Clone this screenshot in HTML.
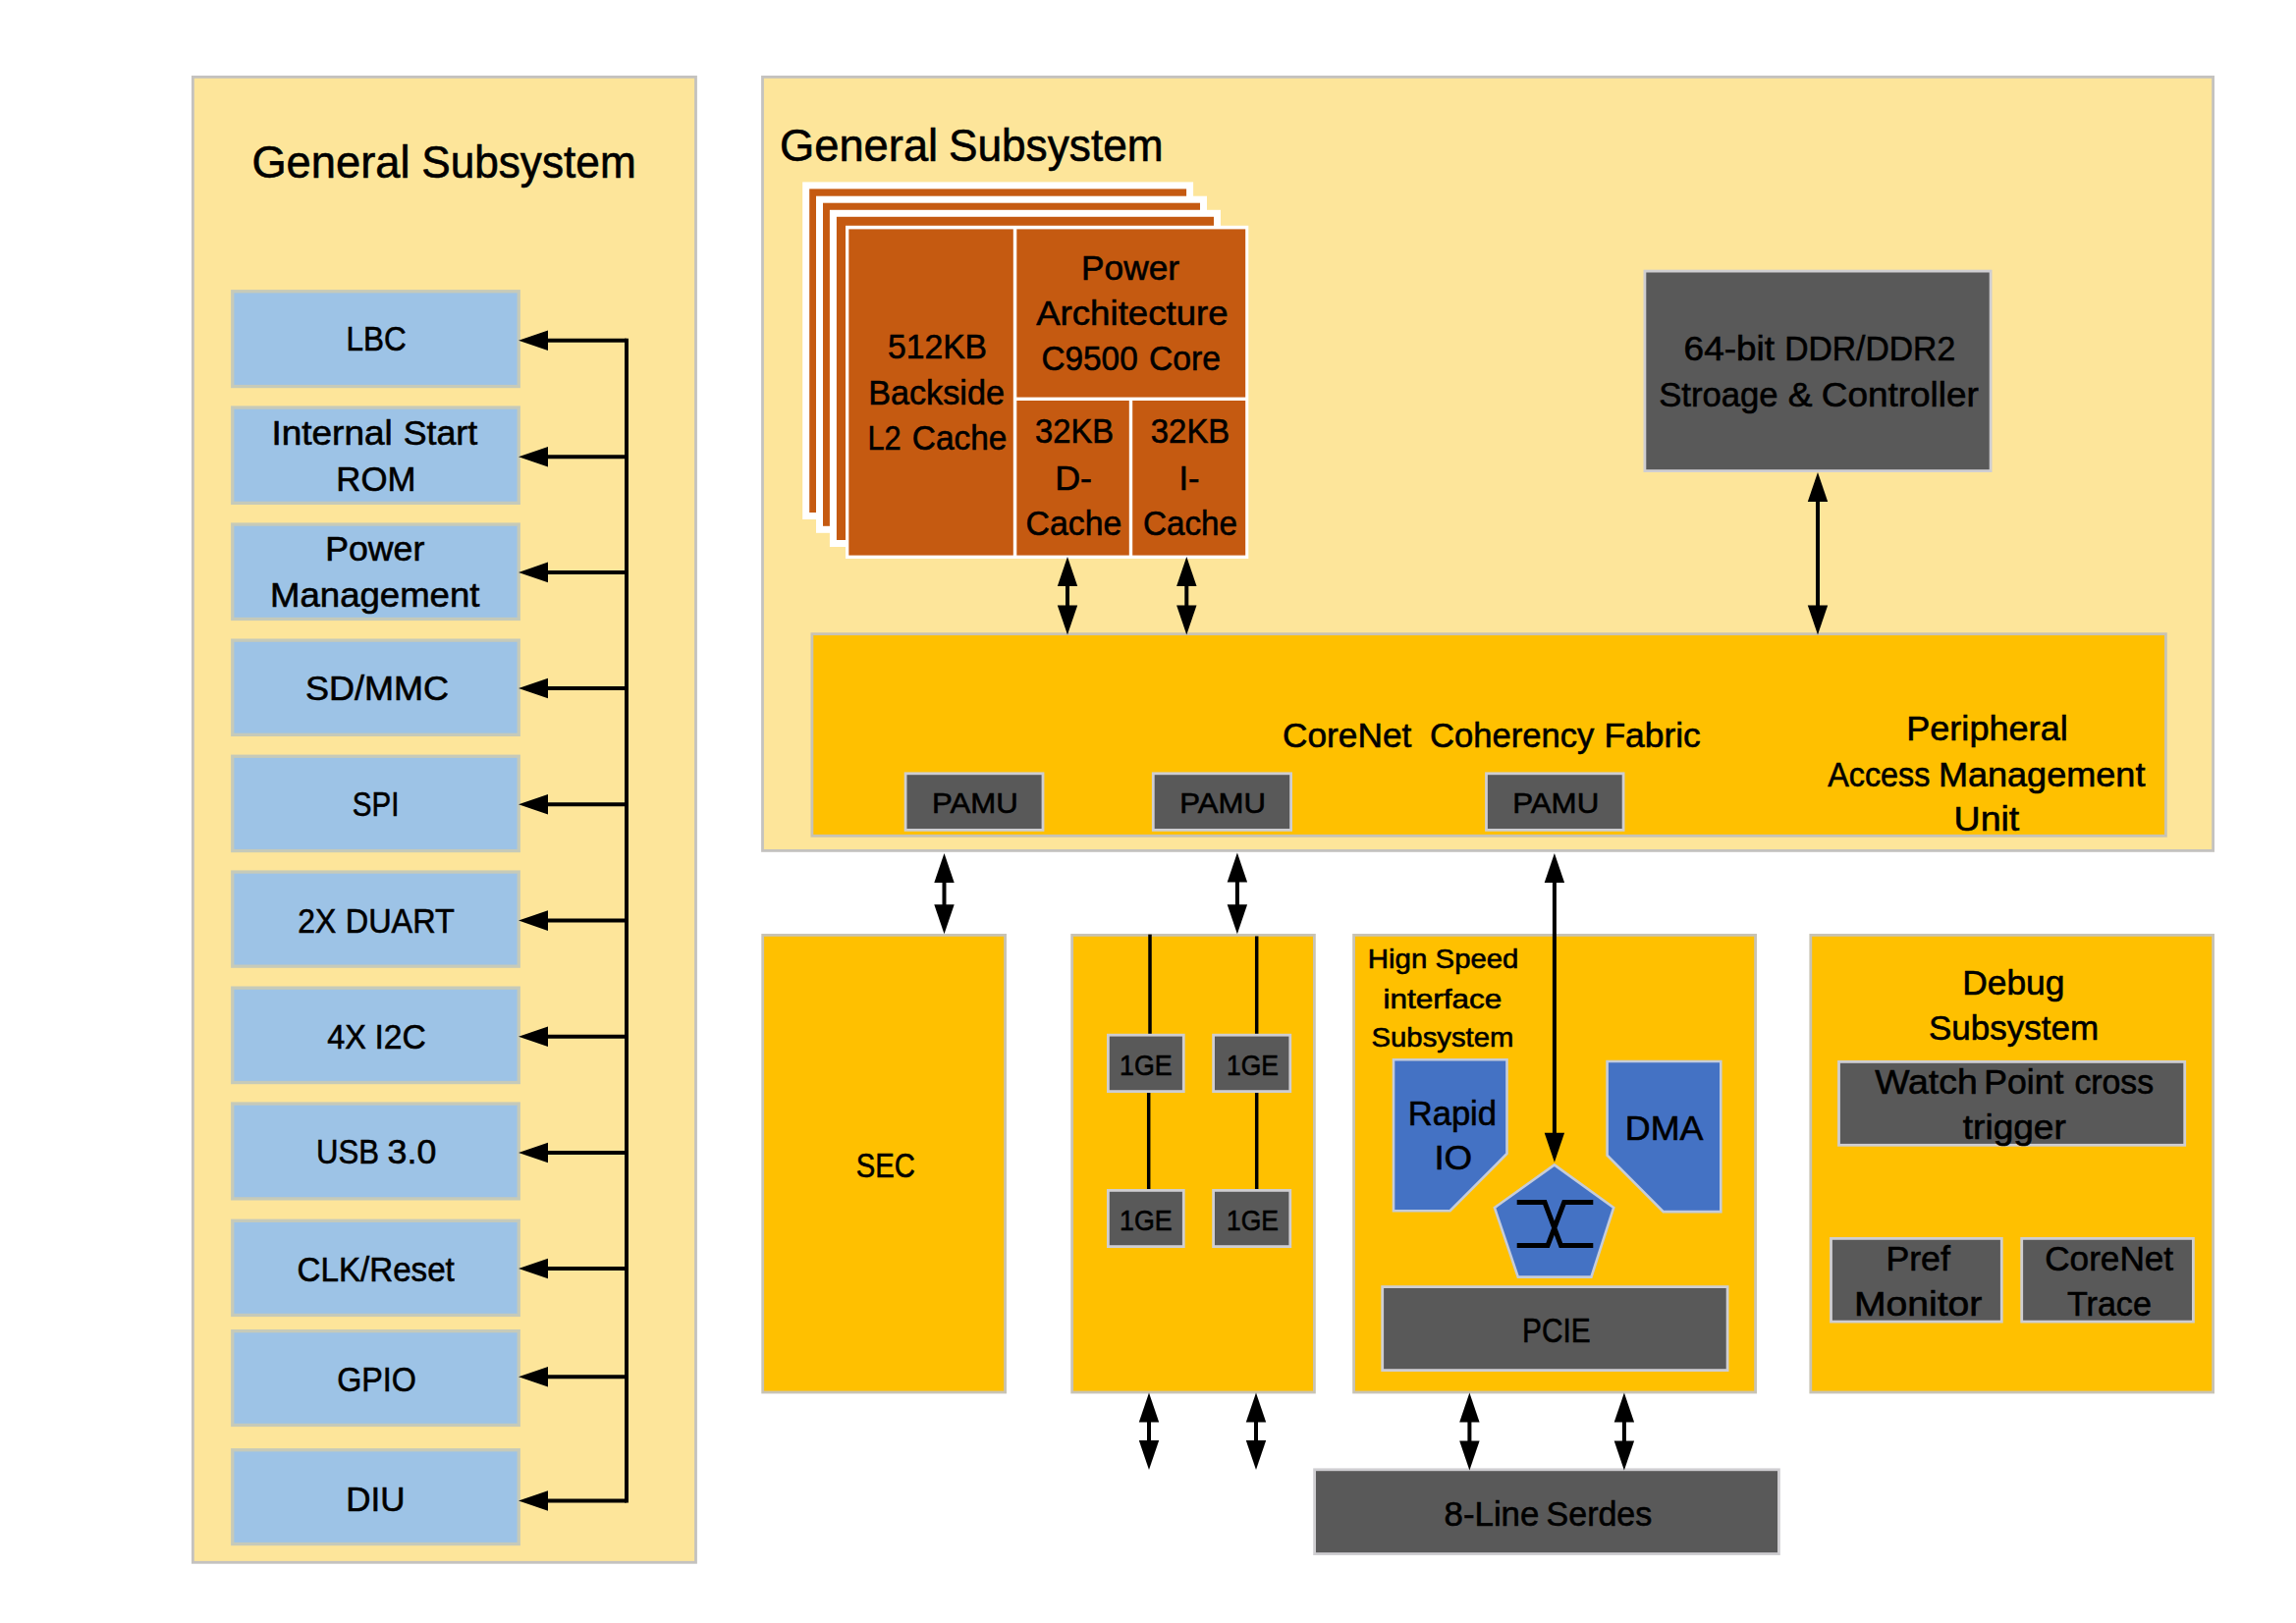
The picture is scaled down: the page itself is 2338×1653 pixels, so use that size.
<!DOCTYPE html>
<html><head><meta charset="utf-8"><title>Block diagram</title>
<style>
html,body{margin:0;padding:0;background:#fff;}
body{width:2338px;height:1653px;overflow:hidden;}
svg{display:block;}
text{font-family:"Liberation Sans",sans-serif;}
</style></head><body>
<svg width="2338" height="1653" viewBox="0 0 2338 1653">
<rect width="2338" height="1653" fill="#fff"/>
<rect x="196.40" y="78.40" width="512.10" height="1512.90" fill="#FDE59A" stroke="#C4C2BF" stroke-width="2.8"/>
<text x="256.40" y="181.0" font-size="45.8" stroke="#000" stroke-width="0.6" textLength="161.14" lengthAdjust="spacingAndGlyphs" fill="#000">General</text>
<text x="429.20" y="181.0" font-size="45.8" stroke="#000" stroke-width="0.6" textLength="218.49" lengthAdjust="spacingAndGlyphs" fill="#000">Subsystem</text>
<rect x="236.75" y="296.75" width="291.50" height="96.80" fill="#9DC3E6" stroke="#C6CAB9" stroke-width="3.3"/>
<rect x="236.75" y="415.05" width="291.50" height="97.30" fill="#9DC3E6" stroke="#C6CAB9" stroke-width="3.3"/>
<rect x="236.75" y="534.05" width="291.50" height="96.40" fill="#9DC3E6" stroke="#C6CAB9" stroke-width="3.3"/>
<rect x="236.75" y="652.15" width="291.50" height="96.20" fill="#9DC3E6" stroke="#C6CAB9" stroke-width="3.3"/>
<rect x="236.75" y="770.25" width="291.50" height="96.30" fill="#9DC3E6" stroke="#C6CAB9" stroke-width="3.3"/>
<rect x="236.75" y="888.05" width="291.50" height="96.10" fill="#9DC3E6" stroke="#C6CAB9" stroke-width="3.3"/>
<rect x="236.75" y="1006.15" width="291.50" height="96.40" fill="#9DC3E6" stroke="#C6CAB9" stroke-width="3.3"/>
<rect x="236.75" y="1124.05" width="291.50" height="96.80" fill="#9DC3E6" stroke="#C6CAB9" stroke-width="3.3"/>
<rect x="236.75" y="1243.25" width="291.50" height="96.20" fill="#9DC3E6" stroke="#C6CAB9" stroke-width="3.3"/>
<rect x="236.75" y="1355.65" width="291.50" height="95.80" fill="#9DC3E6" stroke="#C6CAB9" stroke-width="3.3"/>
<rect x="236.75" y="1476.75" width="291.50" height="95.80" fill="#9DC3E6" stroke="#C6CAB9" stroke-width="3.3"/>
<line x1="638" y1="344.7" x2="638" y2="1530.5" stroke="#000" stroke-width="4"/>
<line x1="556" y1="346.7" x2="638" y2="346.7" stroke="#000" stroke-width="4"/>
<polygon points="528,346.7 558,336.4 558,357.0" fill="#000"/>
<line x1="556" y1="465.3" x2="638" y2="465.3" stroke="#000" stroke-width="4"/>
<polygon points="528,465.3 558,455.0 558,475.6" fill="#000"/>
<line x1="556" y1="582.9" x2="638" y2="582.9" stroke="#000" stroke-width="4"/>
<polygon points="528,582.9 558,572.6 558,593.1999999999999" fill="#000"/>
<line x1="556" y1="701" x2="638" y2="701" stroke="#000" stroke-width="4"/>
<polygon points="528,701 558,690.7 558,711.3" fill="#000"/>
<line x1="556" y1="819.2" x2="638" y2="819.2" stroke="#000" stroke-width="4"/>
<polygon points="528,819.2 558,808.9000000000001 558,829.5" fill="#000"/>
<line x1="556" y1="937.6" x2="638" y2="937.6" stroke="#000" stroke-width="4"/>
<polygon points="528,937.6 558,927.3000000000001 558,947.9" fill="#000"/>
<line x1="556" y1="1055.7" x2="638" y2="1055.7" stroke="#000" stroke-width="4"/>
<polygon points="528,1055.7 558,1045.4 558,1066.0" fill="#000"/>
<line x1="556" y1="1174" x2="638" y2="1174" stroke="#000" stroke-width="4"/>
<polygon points="528,1174 558,1163.7 558,1184.3" fill="#000"/>
<line x1="556" y1="1292" x2="638" y2="1292" stroke="#000" stroke-width="4"/>
<polygon points="528,1292 558,1281.7 558,1302.3" fill="#000"/>
<line x1="556" y1="1402.3" x2="638" y2="1402.3" stroke="#000" stroke-width="4"/>
<polygon points="528,1402.3 558,1392.0 558,1412.6" fill="#000"/>
<line x1="556" y1="1528.5" x2="638" y2="1528.5" stroke="#000" stroke-width="4"/>
<polygon points="528,1528.5 558,1518.2 558,1538.8" fill="#000"/>
<rect x="776.50" y="78.40" width="1477.10" height="788.00" fill="#FDE59A" stroke="#C4C2BF" stroke-width="2.8"/>
<text x="794.00" y="164.1" font-size="45.8" stroke="#000" stroke-width="0.6" textLength="161.17" lengthAdjust="spacingAndGlyphs" fill="#000">General</text>
<text x="965.90" y="164.1" font-size="45.8" stroke="#000" stroke-width="0.6" textLength="218.70" lengthAdjust="spacingAndGlyphs" fill="#000">Subsystem</text>
<rect x="820.70" y="188.90" width="390.90" height="336.60" fill="#C55A11" stroke="#fff" stroke-width="7"/>
<rect x="834.50" y="203.20" width="391.00" height="336.10" fill="#C55A11" stroke="#fff" stroke-width="7"/>
<rect x="848.40" y="217.30" width="391.10" height="336.20" fill="#C55A11" stroke="#fff" stroke-width="7"/>
<rect x="861" y="229.8" width="410.3" height="339.2" fill="#fff"/>
<rect x="864.3" y="233.4" width="167.5" height="332.2" fill="#C55A11"/>
<rect x="1035.3" y="233.4" width="232.9" height="171.2" fill="#C55A11"/>
<rect x="1035.3" y="408" width="114.5" height="157.6" fill="#C55A11"/>
<rect x="1153.2" y="408" width="115.0" height="157.6" fill="#C55A11"/>
<rect x="1674.90" y="276.10" width="352.20" height="203.50" fill="#595959" stroke="#CFCED1" stroke-width="2.8"/>
<rect x="826.90" y="645.70" width="1378.50" height="205.60" fill="#FFC000" stroke="#C8C3B4" stroke-width="2.8"/>
<rect x="922.10" y="787.80" width="139.90" height="57.60" fill="#595959" stroke="#CFCED1" stroke-width="2.8"/>
<rect x="1174.30" y="787.80" width="140.30" height="57.60" fill="#595959" stroke="#CFCED1" stroke-width="2.8"/>
<rect x="1513.50" y="787.80" width="139.60" height="57.60" fill="#595959" stroke="#CFCED1" stroke-width="2.8"/>
<rect x="776.70" y="952.40" width="246.90" height="465.60" fill="#FFC000" stroke="#C8C3B4" stroke-width="2.8"/>
<rect x="1091.70" y="952.40" width="246.70" height="465.60" fill="#FFC000" stroke="#C8C3B4" stroke-width="2.8"/>
<rect x="1378.60" y="952.40" width="409.00" height="465.60" fill="#FFC000" stroke="#C8C3B4" stroke-width="2.8"/>
<rect x="1843.80" y="952.40" width="409.80" height="465.60" fill="#FFC000" stroke="#C8C3B4" stroke-width="2.8"/>
<rect x="1338.60" y="1496.80" width="472.80" height="85.80" fill="#595959" stroke="#CFCED1" stroke-width="2.8"/>
<line x1="1171" y1="951.7" x2="1171" y2="1054" stroke="#000" stroke-width="3.5"/>
<line x1="1279.7" y1="953.5" x2="1279.7" y2="1056" stroke="#000" stroke-width="3.5"/>
<line x1="1169.7" y1="1111" x2="1169.7" y2="1213" stroke="#000" stroke-width="3.5"/>
<line x1="1279.7" y1="1111" x2="1279.7" y2="1213" stroke="#000" stroke-width="3.5"/>
<rect x="1128.40" y="1054.20" width="76.90" height="57.40" fill="#595959" stroke="#CFCED1" stroke-width="2.8"/>
<rect x="1128.40" y="1212.40" width="76.90" height="57.20" fill="#595959" stroke="#CFCED1" stroke-width="2.8"/>
<rect x="1235.60" y="1054.20" width="78.20" height="57.40" fill="#595959" stroke="#CFCED1" stroke-width="2.8"/>
<rect x="1235.60" y="1212.40" width="78.20" height="57.20" fill="#595959" stroke="#CFCED1" stroke-width="2.8"/>
<polygon points="1419.0,1079.2 1534.5,1079.2 1534.5,1175.0 1476.6,1233.2 1419.0,1233.2" fill="#4472C4" stroke="#C5CCDA" stroke-width="2.6" stroke-linejoin="miter"/>
<polygon points="1636.6,1081.0 1752.3,1081.0 1752.3,1234.1 1693.8,1234.1 1636.6,1176.6" fill="#4472C4" stroke="#C5CCDA" stroke-width="2.6" stroke-linejoin="miter"/>
<polygon points="1582.8,1186.4 1643.2,1230.0 1620.4,1300.6 1545.8,1300.6 1521.9,1230.0" fill="#4472C4" stroke="#C5CCDA" stroke-width="2.6" stroke-linejoin="miter"/>
<path d="M1544.7 1224.5 H1573 L1589.5 1268.6 H1622.3 M1622.3 1224.5 H1592.7 L1576 1268.6 H1544.7" fill="none" stroke="#000" stroke-width="5" stroke-linejoin="miter"/>
<rect x="1407.70" y="1310.60" width="351.40" height="85.00" fill="#595959" stroke="#CFCED1" stroke-width="2.8"/>
<rect x="1872.50" y="1081.40" width="352.20" height="84.90" fill="#595959" stroke="#CFCED1" stroke-width="2.8"/>
<rect x="1864.50" y="1261.40" width="173.80" height="84.70" fill="#595959" stroke="#CFCED1" stroke-width="2.8"/>
<rect x="2058.70" y="1261.40" width="174.70" height="84.70" fill="#595959" stroke="#CFCED1" stroke-width="2.8"/>
<line x1="1087" y1="595.0" x2="1087" y2="618.5" stroke="#000" stroke-width="4"/>
<polygon points="1087,567.0 1076.8,597.0 1097.2,597.0" fill="#000"/>
<polygon points="1087,646.5 1076.8,616.5 1097.2,616.5" fill="#000"/>
<line x1="1208.3" y1="595.0" x2="1208.3" y2="618.5" stroke="#000" stroke-width="4"/>
<polygon points="1208.3,567.0 1198.1,597.0 1218.5,597.0" fill="#000"/>
<polygon points="1208.3,646.5 1198.1,616.5 1218.5,616.5" fill="#000"/>
<line x1="1851" y1="509.0" x2="1851" y2="618.4" stroke="#000" stroke-width="4"/>
<polygon points="1851,481.0 1840.8,511.0 1861.2,511.0" fill="#000"/>
<polygon points="1851,646.4 1840.8,616.4 1861.2,616.4" fill="#000"/>
<line x1="961.5" y1="897.0" x2="961.5" y2="923.3" stroke="#000" stroke-width="4"/>
<polygon points="961.5,869.0 951.3,899.0 971.7,899.0" fill="#000"/>
<polygon points="961.5,951.3 951.3,921.3 971.7,921.3" fill="#000"/>
<line x1="1259.9" y1="896.5" x2="1259.9" y2="923.3" stroke="#000" stroke-width="4"/>
<polygon points="1259.9,868.5 1249.7,898.5 1270.1000000000001,898.5" fill="#000"/>
<polygon points="1259.9,951.3 1249.7,921.3 1270.1000000000001,921.3" fill="#000"/>
<line x1="1582.9" y1="897.0" x2="1582.9" y2="1155.8" stroke="#000" stroke-width="4"/>
<polygon points="1582.9,869.0 1572.7,899.0 1593.1000000000001,899.0" fill="#000"/>
<polygon points="1582.9,1183.8 1572.7,1153.8 1593.1000000000001,1153.8" fill="#000"/>
<line x1="1170" y1="1446.5" x2="1170" y2="1469.0" stroke="#000" stroke-width="4"/>
<polygon points="1170,1418.5 1159.8,1448.5 1180.2,1448.5" fill="#000"/>
<polygon points="1170,1497.0 1159.8,1467.0 1180.2,1467.0" fill="#000"/>
<line x1="1279" y1="1446.5" x2="1279" y2="1469.0" stroke="#000" stroke-width="4"/>
<polygon points="1279,1418.5 1268.8,1448.5 1289.2,1448.5" fill="#000"/>
<polygon points="1279,1497.0 1268.8,1467.0 1289.2,1467.0" fill="#000"/>
<line x1="1496.4" y1="1446.5" x2="1496.4" y2="1469.6" stroke="#000" stroke-width="4"/>
<polygon points="1496.4,1418.5 1486.2,1448.5 1506.6000000000001,1448.5" fill="#000"/>
<polygon points="1496.4,1497.6 1486.2,1467.6 1506.6000000000001,1467.6" fill="#000"/>
<line x1="1653.9" y1="1446.5" x2="1653.9" y2="1469.6" stroke="#000" stroke-width="4"/>
<polygon points="1653.9,1418.5 1643.7,1448.5 1664.1000000000001,1448.5" fill="#000"/>
<polygon points="1653.9,1497.6 1643.7,1467.6 1664.1000000000001,1467.6" fill="#000"/>
<text x="1101.00" y="284.8" font-size="35.2" stroke="#000" stroke-width="0.6" textLength="100.07" lengthAdjust="spacingAndGlyphs" fill="#000">Power</text>
<text x="1055.20" y="331.3" font-size="35.2" stroke="#000" stroke-width="0.6" textLength="195.41" lengthAdjust="spacingAndGlyphs" fill="#000">Architecture</text>
<text x="1060.40" y="377.0" font-size="35.2" stroke="#000" stroke-width="0.6" textLength="98.30" lengthAdjust="spacingAndGlyphs" fill="#000">C9500</text>
<text x="1170.00" y="377.0" font-size="35.2" stroke="#000" stroke-width="0.6" textLength="73.10" lengthAdjust="spacingAndGlyphs" fill="#000">Core</text>
<text x="904.00" y="364.7" font-size="35.2" stroke="#000" stroke-width="0.6" textLength="101.07" lengthAdjust="spacingAndGlyphs" fill="#000">512KB</text>
<text x="884.20" y="411.8" font-size="35.2" stroke="#000" stroke-width="0.6" textLength="138.72" lengthAdjust="spacingAndGlyphs" fill="#000">Backside</text>
<text x="883.40" y="457.6" font-size="35.2" stroke="#000" stroke-width="0.6" textLength="34.13" lengthAdjust="spacingAndGlyphs" fill="#000">L2</text>
<text x="928.80" y="457.6" font-size="35.2" stroke="#000" stroke-width="0.6" textLength="96.67" lengthAdjust="spacingAndGlyphs" fill="#000">Cache</text>
<text x="1054.00" y="451.0" font-size="35.2" stroke="#000" stroke-width="0.6" textLength="80.16" lengthAdjust="spacingAndGlyphs" fill="#000">32KB</text>
<text x="1074.20" y="498.6" font-size="35.2" stroke="#000" stroke-width="0.6" textLength="37.87" lengthAdjust="spacingAndGlyphs" fill="#000">D-</text>
<text x="1044.60" y="545.1" font-size="35.2" stroke="#000" stroke-width="0.6" textLength="97.69" lengthAdjust="spacingAndGlyphs" fill="#000">Cache</text>
<text x="1171.80" y="451.0" font-size="35.2" stroke="#000" stroke-width="0.6" textLength="80.47" lengthAdjust="spacingAndGlyphs" fill="#000">32KB</text>
<text x="1200.40" y="498.6" font-size="35.2" stroke="#000" stroke-width="0.6" textLength="21.00" lengthAdjust="spacingAndGlyphs" fill="#000">I-</text>
<text x="1164.00" y="545.1" font-size="35.2" stroke="#000" stroke-width="0.6" textLength="96.07" lengthAdjust="spacingAndGlyphs" fill="#000">Cache</text>
<text x="1714.60" y="367.1" font-size="35.2" stroke="#000" stroke-width="0.6" textLength="92.47" lengthAdjust="spacingAndGlyphs" fill="#000">64-bit</text>
<text x="1817.20" y="367.1" font-size="35.2" stroke="#000" stroke-width="0.6" textLength="173.92" lengthAdjust="spacingAndGlyphs" fill="#000">DDR/DDR2</text>
<text x="1689.20" y="413.6" font-size="35.2" stroke="#000" stroke-width="0.6" textLength="121.47" lengthAdjust="spacingAndGlyphs" fill="#000">Stroage</text>
<text x="1820.80" y="413.6" font-size="35.2" stroke="#000" stroke-width="0.6" textLength="24.74" lengthAdjust="spacingAndGlyphs" fill="#000">&amp;</text>
<text x="1854.80" y="413.6" font-size="35.2" stroke="#000" stroke-width="0.6" textLength="160.06" lengthAdjust="spacingAndGlyphs" fill="#000">Controller</text>
<text x="1306.00" y="760.7" font-size="35.2" stroke="#000" stroke-width="0.6" textLength="131.42" lengthAdjust="spacingAndGlyphs" fill="#000">CoreNet</text>
<text x="1456.10" y="760.7" font-size="35.2" stroke="#000" stroke-width="0.6" textLength="167.32" lengthAdjust="spacingAndGlyphs" fill="#000">Coherency</text>
<text x="1633.40" y="760.7" font-size="35.2" stroke="#000" stroke-width="0.6" textLength="98.35" lengthAdjust="spacingAndGlyphs" fill="#000">Fabric</text>
<text x="1941.20" y="754.0" font-size="35.2" stroke="#000" stroke-width="0.6" textLength="164.54" lengthAdjust="spacingAndGlyphs" fill="#000">Peripheral</text>
<text x="1861.20" y="800.8" font-size="35.2" stroke="#000" stroke-width="0.6" textLength="104.22" lengthAdjust="spacingAndGlyphs" fill="#000">Access</text>
<text x="1973.90" y="800.8" font-size="35.2" stroke="#000" stroke-width="0.6" textLength="210.55" lengthAdjust="spacingAndGlyphs" fill="#000">Management</text>
<text x="1989.60" y="846.4" font-size="35.2" stroke="#000" stroke-width="0.6" textLength="66.69" lengthAdjust="spacingAndGlyphs" fill="#000">Unit</text>
<text x="949.00" y="828.1" font-size="30" stroke="#000" stroke-width="0.6" textLength="87.68" lengthAdjust="spacingAndGlyphs" fill="#000">PAMU</text>
<text x="1201.20" y="828.1" font-size="30" stroke="#000" stroke-width="0.6" textLength="87.70" lengthAdjust="spacingAndGlyphs" fill="#000">PAMU</text>
<text x="1540.20" y="828.1" font-size="30" stroke="#000" stroke-width="0.6" textLength="88.11" lengthAdjust="spacingAndGlyphs" fill="#000">PAMU</text>
<text x="871.80" y="1198.8" font-size="35.2" stroke="#000" stroke-width="0.6" textLength="60.09" lengthAdjust="spacingAndGlyphs" fill="#000">SEC</text>
<text x="1140.00" y="1095.0" font-size="30" stroke="#000" stroke-width="0.6" textLength="53.63" lengthAdjust="spacingAndGlyphs" fill="#000">1GE</text>
<text x="1140.00" y="1252.9" font-size="30" stroke="#000" stroke-width="0.6" textLength="53.63" lengthAdjust="spacingAndGlyphs" fill="#000">1GE</text>
<text x="1249.00" y="1095.0" font-size="30" stroke="#000" stroke-width="0.6" textLength="52.99" lengthAdjust="spacingAndGlyphs" fill="#000">1GE</text>
<text x="1249.00" y="1252.9" font-size="30" stroke="#000" stroke-width="0.6" textLength="52.99" lengthAdjust="spacingAndGlyphs" fill="#000">1GE</text>
<text x="1392.70" y="986.4" font-size="27.7" stroke="#000" stroke-width="0.6" textLength="60.60" lengthAdjust="spacingAndGlyphs" fill="#000">Hign</text>
<text x="1461.60" y="986.4" font-size="27.7" stroke="#000" stroke-width="0.6" textLength="84.71" lengthAdjust="spacingAndGlyphs" fill="#000">Speed</text>
<text x="1408.40" y="1026.5" font-size="27.7" stroke="#000" stroke-width="0.6" textLength="120.88" lengthAdjust="spacingAndGlyphs" fill="#000">interface</text>
<text x="1396.60" y="1066.4" font-size="27.7" stroke="#000" stroke-width="0.6" textLength="144.67" lengthAdjust="spacingAndGlyphs" fill="#000">Subsystem</text>
<text x="1433.80" y="1145.5" font-size="35.2" stroke="#000" stroke-width="0.6" textLength="90.21" lengthAdjust="spacingAndGlyphs" fill="#000">Rapid</text>
<text x="1460.40" y="1190.9" font-size="35.2" stroke="#000" stroke-width="0.6" textLength="38.79" lengthAdjust="spacingAndGlyphs" fill="#000">IO</text>
<text x="1654.80" y="1160.8" font-size="35.2" stroke="#000" stroke-width="0.6" textLength="79.51" lengthAdjust="spacingAndGlyphs" fill="#000">DMA</text>
<text x="1550.00" y="1366.6" font-size="35.2" stroke="#000" stroke-width="0.6" textLength="69.57" lengthAdjust="spacingAndGlyphs" fill="#000">PCIE</text>
<text x="1470.60" y="1553.9" font-size="35.2" stroke="#000" stroke-width="0.6" textLength="96.73" lengthAdjust="spacingAndGlyphs" fill="#000">8-Line</text>
<text x="1574.60" y="1553.9" font-size="35.2" stroke="#000" stroke-width="0.6" textLength="107.68" lengthAdjust="spacingAndGlyphs" fill="#000">Serdes</text>
<text x="1998.20" y="1012.7" font-size="35.2" stroke="#000" stroke-width="0.6" textLength="104.23" lengthAdjust="spacingAndGlyphs" fill="#000">Debug</text>
<text x="1964.00" y="1058.6" font-size="35.2" stroke="#000" stroke-width="0.6" textLength="173.08" lengthAdjust="spacingAndGlyphs" fill="#000">Subsystem</text>
<text x="1909.20" y="1113.7" font-size="35.2" stroke="#000" stroke-width="0.6" textLength="104.49" lengthAdjust="spacingAndGlyphs" fill="#000">Watch</text>
<text x="2020.20" y="1113.7" font-size="35.2" stroke="#000" stroke-width="0.6" textLength="81.13" lengthAdjust="spacingAndGlyphs" fill="#000">Point</text>
<text x="2112.40" y="1113.7" font-size="35.2" stroke="#000" stroke-width="0.6" textLength="80.72" lengthAdjust="spacingAndGlyphs" fill="#000">cross</text>
<text x="1998.80" y="1159.5" font-size="35.2" stroke="#000" stroke-width="0.6" textLength="105.03" lengthAdjust="spacingAndGlyphs" fill="#000">trigger</text>
<text x="1920.40" y="1294.1" font-size="35.2" stroke="#000" stroke-width="0.6" textLength="65.53" lengthAdjust="spacingAndGlyphs" fill="#000">Pref</text>
<text x="1887.90" y="1339.9" font-size="35.2" stroke="#000" stroke-width="0.6" textLength="130.52" lengthAdjust="spacingAndGlyphs" fill="#000">Monitor</text>
<text x="2082.20" y="1294.1" font-size="35.2" stroke="#000" stroke-width="0.6" textLength="130.93" lengthAdjust="spacingAndGlyphs" fill="#000">CoreNet</text>
<text x="2105.00" y="1339.9" font-size="35.2" stroke="#000" stroke-width="0.6" textLength="85.88" lengthAdjust="spacingAndGlyphs" fill="#000">Trace</text>
<text x="352.60" y="356.6" font-size="35.2" stroke="#000" stroke-width="0.6" textLength="61.24" lengthAdjust="spacingAndGlyphs" fill="#000">LBC</text>
<text x="276.40" y="452.7" font-size="35.2" stroke="#000" stroke-width="0.6" textLength="123.34" lengthAdjust="spacingAndGlyphs" fill="#000">Internal</text>
<text x="410.70" y="452.7" font-size="35.2" stroke="#000" stroke-width="0.6" textLength="75.44" lengthAdjust="spacingAndGlyphs" fill="#000">Start</text>
<text x="342.30" y="499.7" font-size="35.2" stroke="#000" stroke-width="0.6" textLength="81.06" lengthAdjust="spacingAndGlyphs" fill="#000">ROM</text>
<text x="331.20" y="570.8" font-size="35.2" stroke="#000" stroke-width="0.6" textLength="101.09" lengthAdjust="spacingAndGlyphs" fill="#000">Power</text>
<text x="275.00" y="617.8" font-size="35.2" stroke="#000" stroke-width="0.6" textLength="213.45" lengthAdjust="spacingAndGlyphs" fill="#000">Management</text>
<text x="311.00" y="712.7" font-size="35.2" stroke="#000" stroke-width="0.6" textLength="146.06" lengthAdjust="spacingAndGlyphs" fill="#000">SD/MMC</text>
<text x="358.80" y="830.9" font-size="35.2" stroke="#000" stroke-width="0.6" textLength="47.56" lengthAdjust="spacingAndGlyphs" fill="#000">SPI</text>
<text x="303.20" y="950.3" font-size="35.2" stroke="#000" stroke-width="0.6" textLength="38.94" lengthAdjust="spacingAndGlyphs" fill="#000">2X</text>
<text x="351.80" y="950.3" font-size="35.2" stroke="#000" stroke-width="0.6" textLength="111.07" lengthAdjust="spacingAndGlyphs" fill="#000">DUART</text>
<text x="333.20" y="1067.9" font-size="35.2" stroke="#000" stroke-width="0.6" textLength="39.51" lengthAdjust="spacingAndGlyphs" fill="#000">4X</text>
<text x="381.40" y="1067.9" font-size="35.2" stroke="#000" stroke-width="0.6" textLength="52.28" lengthAdjust="spacingAndGlyphs" fill="#000">I2C</text>
<text x="322.10" y="1185.3" font-size="35.2" stroke="#000" stroke-width="0.6" textLength="63.93" lengthAdjust="spacingAndGlyphs" fill="#000">USB</text>
<text x="394.60" y="1185.3" font-size="35.2" stroke="#000" stroke-width="0.6" textLength="49.73" lengthAdjust="spacingAndGlyphs" fill="#000">3.0</text>
<text x="302.60" y="1305.0" font-size="35.2" stroke="#000" stroke-width="0.6" textLength="160.23" lengthAdjust="spacingAndGlyphs" fill="#000">CLK/Reset</text>
<text x="343.20" y="1416.6" font-size="35.2" stroke="#000" stroke-width="0.6" textLength="80.76" lengthAdjust="spacingAndGlyphs" fill="#000">GPIO</text>
<text x="352.20" y="1538.5" font-size="35.2" stroke="#000" stroke-width="0.6" textLength="60.19" lengthAdjust="spacingAndGlyphs" fill="#000">DIU</text>
</svg></body></html>
